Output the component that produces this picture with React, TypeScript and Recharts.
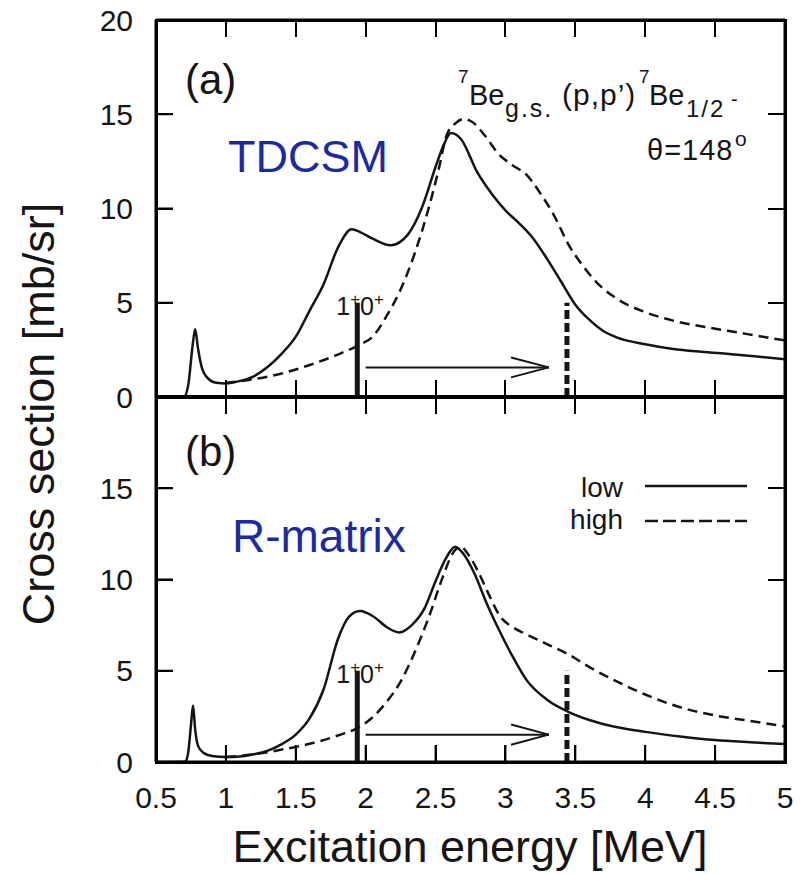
import React from "react";
import { LineChart, Line, XAxis, YAxis, ReferenceLine, Legend } from "recharts";

// axis ticks
const energyTicks = [0.5, 1, 1.5, 2, 2.5, 3, 3.5, 4, 4.5, 5];
const topYTicks = [0, 5, 10, 15, 20];
const bottomYTicks = [0, 5, 10, 15];

// (a) TDCSM, low / high
const tdcsmLowE = [0.5, 0.7, 0.73, 0.76, 0.78, 0.8, 0.83, 0.87, 0.93, 1.0, 1.1, 1.2, 1.3, 1.4, 1.5, 1.6, 1.7, 1.8, 1.9, 1.96, 2.05, 2.18, 2.3, 2.4, 2.5, 2.56, 2.61, 2.68, 2.8, 2.9, 3.0, 3.1, 3.2, 3.3, 3.4, 3.5, 3.6, 3.7, 3.8, 4.0, 4.2, 4.4, 4.6, 4.8, 5.0];
const tdcsmLowV = [0, 0.02, 0.6, 2.6, 3.6, 2.6, 1.5, 1.0, 0.75, 0.72, 0.85, 1.1, 1.6, 2.3, 3.2, 4.6, 6.0, 7.9, 8.9, 8.75, 8.4, 8.05, 8.6, 10.0, 12.2, 13.4, 14.0, 13.7, 11.9, 10.8, 9.9, 9.2, 8.4, 7.3, 6.1, 4.9, 4.1, 3.5, 3.15, 2.8, 2.55, 2.4, 2.28, 2.15, 2.0];
const tdcsmHighE = [1.0, 1.2, 1.4, 1.6, 1.8, 1.95, 2.05, 2.15, 2.25, 2.35, 2.45, 2.52, 2.58, 2.64, 2.7, 2.76, 2.85, 2.95, 3.05, 3.15, 3.25, 3.35, 3.45, 3.55, 3.65, 3.8, 4.0, 4.2, 4.4, 4.6, 4.8, 5.0];
const tdcsmHighV = [0.75, 0.95, 1.25, 1.7, 2.25, 2.75, 3.2, 4.3, 5.7, 7.6, 10.0, 12.0, 13.9, 14.5, 14.75, 14.6, 13.9, 12.9, 12.3, 11.8, 10.8, 9.6, 8.1, 7.0, 6.1, 5.2, 4.5, 4.05, 3.75, 3.5, 3.25, 3.0];

// (b) R-matrix, low / high
const rmLowE = [0.5, 0.71, 0.73, 0.75, 0.765, 0.78, 0.8, 0.84, 0.9, 1.0, 1.1, 1.2, 1.3, 1.4, 1.5, 1.6, 1.7, 1.8, 1.88, 1.96, 2.05, 2.15, 2.24, 2.33, 2.42, 2.5, 2.57, 2.64, 2.7, 2.78, 2.86, 2.95, 3.05, 3.15, 3.3, 3.45, 3.6, 3.8, 4.0, 4.25, 4.5, 4.75, 5.0];
const rmLowV = [0, 0.02, 0.5, 2.0, 3.1, 1.8, 0.9, 0.5, 0.33, 0.27, 0.3, 0.42, 0.62, 0.98, 1.5, 2.4, 4.0, 6.7, 7.95, 8.27, 8.0, 7.4, 7.1, 7.5, 8.4, 9.9, 11.1, 11.8, 11.4, 10.3, 8.8, 7.3, 5.8, 4.5, 3.4, 2.75, 2.3, 1.9, 1.65, 1.4, 1.2, 1.08, 0.98];
const rmHighE = [1.0, 1.2, 1.4, 1.6, 1.8, 1.95, 2.05, 2.15, 2.25, 2.35, 2.45, 2.55, 2.62, 2.68, 2.74, 2.8, 2.88, 2.96, 3.05, 3.15, 3.3, 3.45, 3.6, 3.8, 4.0, 4.25, 4.5, 4.75, 5.0];
const rmHighV = [0.28, 0.42, 0.68, 1.0, 1.45, 1.9, 2.45, 3.3, 4.4, 6.0, 7.9, 10.1, 11.4, 11.8, 11.3, 10.5, 9.2, 8.0, 7.4, 7.0, 6.45, 5.9, 5.2, 4.4, 3.7, 3.0, 2.55, 2.25, 1.95];

// thresholds (MeV), marker height (mb/sr), arrow
const solidMarkerE = 1.94;
const dashedMarkerE = 3.44;
const markerTop = 5;
const arrowFrom = 2.0;
const arrowTo = 3.31;
const arrowBack = 3.04;
const arrowLevel = [1.57, 1.5];
const arrowSpread = [0.53, 0.55];

const zip = (e: number[], v: number[]) => e.map((x, i) => ({ e: x, v: v[i] }));

const FONT = "'Liberation Sans', Arial, Helvetica, sans-serif";
const INK = "#151515";
const BLUE = "#1b2aa3";

// plot geometry shared by both panels
const W = 807;
const H = 874;
const LEFT = 156;
const RIGHT = 785;
const PANELS = [
  { top: 20, bottom: 397 },
  { top: 397, bottom: 762 },
];
const E_MIN = 0.5;
const E_MAX = 5;
const V_MAX = 20;
const TICK = 17;

const frameLine = { stroke: "#000", strokeWidth: 3 };
const tickLine = { stroke: "#000", strokeWidth: 2 };

function MarkerLabel({ viewBox }: any) {
  if (!viewBox) return null;
  return (
    <text x={viewBox.x - 21} y={viewBox.y + 12} fontFamily={FONT} fontSize={25} fill={INK}>
      1
      <tspan dy={-10} fontSize={17}>+</tspan>
      <tspan dy={10}>0</tspan>
      <tspan dy={-10} fontSize={17}>+</tspan>
    </text>
  );
}

function LegendBox({ payload }: any) {
  const items = [...(payload || [])].sort((a: any, b: any) => {
    const da = a?.payload?.strokeDasharray ? 1 : 0;
    const db = b?.payload?.strokeDasharray ? 1 : 0;
    return da - db;
  });
  return (
    <svg width={W} height={H} style={{ position: "absolute", left: 0, top: 0 }}>
      {items.map((p: any, i: number) => (
        <g key={i}>
          <text x={623} y={497 + 32 * i} textAnchor="end" fontFamily={FONT} fontSize={28} fill={INK}>
            {p.value}
          </text>
          <line
            x1={645}
            x2={747}
            y1={486 + 35 * i}
            y2={486 + 35 * i}
            stroke={INK}
            strokeWidth={2.5}
            strokeDasharray={p?.payload?.strokeDasharray ? "13 5" : undefined}
          />
        </g>
      ))}
    </svg>
  );
}

// frame boxes and inward ticks as plain html boxes (backup for the axis lines)
function frameBars() {
  const xPx = (e: number) => LEFT + ((e - E_MIN) / (E_MAX - E_MIN)) * (RIGHT - LEFT);
  const bars: { x: number; y: number; w: number; h: number }[] = [];
  const F = 3;
  const T = 2;
  PANELS.forEach((p, k) => {
    const yPx = (v: number) => p.bottom - (v / V_MAX) * (p.bottom - p.top);
    bars.push({ x: LEFT - 1, y: p.top - 1, w: RIGHT - LEFT + F, h: F });
    bars.push({ x: LEFT - 1, y: p.bottom - 1, w: RIGHT - LEFT + F, h: F });
    bars.push({ x: LEFT - 1, y: p.top - 1, w: F, h: p.bottom - p.top + F });
    bars.push({ x: RIGHT - 1, y: p.top - 1, w: F, h: p.bottom - p.top + F });
    energyTicks.forEach((t) => {
      const x = Math.round(xPx(t));
      bars.push({ x: x - 1, y: p.bottom - TICK, w: T, h: TICK });
      bars.push({ x: x - 1, y: p.top, w: T, h: TICK });
    });
    (k === 0 ? topYTicks : bottomYTicks).forEach((t) => {
      const y = Math.round(yPx(t));
      bars.push({ x: LEFT, y: y - 1, w: TICK, h: T });
      bars.push({ x: RIGHT - TICK, y: y - 1, w: TICK, h: T });
    });
  });
  bars.push({ x: LEFT, y: PANELS[0].bottom - 2, w: RIGHT - LEFT, h: 4 });
  return bars;
}

interface PanelProps {
  low: { e: number; v: number }[];
  high: { e: number; v: number }[];
  xHeight: number;
  yTicks: number[];
  idx: number;
  showLegend?: boolean;
}

function Panel({ low, high, xHeight, yTicks, idx, showLegend }: PanelProps) {
  const y0 = arrowLevel[idx];
  const s = arrowSpread[idx];
  const { top, bottom } = PANELS[idx];
  const seg = (x1: number, y1: number, x2: number, y2: number, key: string, w = 2) => (
    <ReferenceLine
      key={key}
      xAxisId="b"
      yAxisId="l"
      segment={[{ x: x1, y: y1 }, { x: x2, y: y2 }]}
      stroke={INK}
      strokeWidth={w}
      ifOverflow="visible"
    />
  );
  return (
    <div style={{ position: "absolute", left: 0, top: 0 }}>
      <LineChart
        width={W}
        height={H}
        margin={{ top: top - 1, right: W - RIGHT - 1, bottom: H - bottom - xHeight, left: 0 }}
      >
        <XAxis
          xAxisId="b"
          dataKey="e"
          type="number"
          domain={[E_MIN, E_MAX]}
          ticks={energyTicks}
          interval={0}
          orientation="bottom"
          height={xHeight}
          axisLine={frameLine}
          tickLine={tickLine}
          tickSize={-TICK}
          tickMargin={42}
          tick={xHeight > 1 ? { fontSize: 30, fill: INK, fontFamily: FONT } : false}
        />
        <XAxis
          xAxisId="t"
          dataKey="e"
          type="number"
          domain={[E_MIN, E_MAX]}
          ticks={energyTicks}
          interval={0}
          orientation="top"
          height={1}
          axisLine={frameLine}
          tickLine={tickLine}
          tickSize={-TICK}
          tick={false}
        />
        <YAxis
          yAxisId="l"
          type="number"
          domain={[0, V_MAX]}
          ticks={yTicks}
          interval={0}
          width={LEFT}
          axisLine={frameLine}
          tickLine={tickLine}
          tickSize={-TICK}
          tickMargin={40}
          tick={{ fontSize: 30, fill: INK, fontFamily: FONT }}
        />
        <YAxis
          yAxisId="r"
          orientation="right"
          type="number"
          domain={[0, V_MAX]}
          ticks={yTicks}
          interval={0}
          width={1}
          axisLine={frameLine}
          tickLine={tickLine}
          tickSize={-TICK}
          tick={false}
        />
        <Line
          xAxisId="b"
          yAxisId="l"
          data={low}
          dataKey="v"
          name="low"
          type="monotone"
          stroke={INK}
          strokeWidth={2.5}
          dot={false}
          activeDot={false}
          isAnimationActive={false}
          legendType="line"
        />
        <Line
          xAxisId="b"
          yAxisId="l"
          data={high}
          dataKey="v"
          name="high"
          type="monotone"
          stroke={INK}
          strokeWidth={2.5}
          strokeDasharray="10 6"
          dot={false}
          activeDot={false}
          isAnimationActive={false}
          legendType="line"
        />
        <ReferenceLine
          xAxisId="b"
          yAxisId="l"
          segment={[{ x: solidMarkerE, y: 0 }, { x: solidMarkerE, y: markerTop }]}
          stroke={INK}
          strokeWidth={5}
          label={<MarkerLabel />}
        />
        <ReferenceLine
          xAxisId="b"
          yAxisId="l"
          segment={[{ x: dashedMarkerE, y: 0 }, { x: dashedMarkerE, y: markerTop }]}
          stroke={INK}
          strokeWidth={5}
          strokeDasharray="9 4"
        />
        {seg(arrowFrom, y0, arrowTo, y0, "shaft")}
        {seg(arrowBack, y0 + s, arrowTo, y0, "head1")}
        {seg(arrowBack, y0 - s, arrowTo, y0, "head2")}
        {showLegend && (
          <Legend
            layout="vertical"
            align="center"
            verticalAlign="middle"
            content={<LegendBox />}
            wrapperStyle={{ position: "absolute", left: 0, top: 0, width: W, height: H, pointerEvents: "none" }}
          />
        )}
      </LineChart>
    </div>
  );
}

export default function App() {
  const bars = frameBars();
  return (
    <div style={{ position: "absolute", left: 0, top: 0, width: W, height: H, background: "#fff", fontFamily: FONT }}>
      <Panel low={zip(tdcsmLowE, tdcsmLowV)} high={zip(tdcsmHighE, tdcsmHighV)} xHeight={1} yTicks={topYTicks} idx={0} />
      <Panel low={zip(rmLowE, rmLowV)} high={zip(rmHighE, rmHighV)} xHeight={40} yTicks={bottomYTicks} idx={1} showLegend />

      {/* frame + ticks */}
      {bars.map((b, i) => (
        <div
          key={i}
          style={{ position: "absolute", left: b.x, top: b.y, width: b.w, height: b.h, background: "#000", pointerEvents: "none" }}
        />
      ))}

      <svg width={W} height={H} style={{ position: "absolute", left: 0, top: 0, pointerEvents: "none" }} fontFamily={FONT}>
        {/* axis titles */}
        <text x={54} y={414} transform="rotate(-90 54 414)" textAnchor="middle" fontSize={45} fill={INK}>
          Cross section [mb/sr]
        </text>
        <text x={470} y={862} textAnchor="middle" fontSize={45} fill={INK}>
          Excitation energy [MeV]
        </text>

        {/* panel (a) */}
        <text x={185} y={94} fontSize={42} fill={INK}>(a)</text>
        <text x={228} y={172} fontSize={45} fill={BLUE}>TDCSM</text>
        <text fill={INK}>
          <tspan x={458} y={83} fontSize={19}>7</tspan>
          <tspan x={469} y={105} fontSize={29}>Be</tspan>
          <tspan x={505} y={117} fontSize={25} letterSpacing={2}>g.s.</tspan>
          <tspan x={562} y={105} fontSize={30} letterSpacing={1}>(p,p’)</tspan>
          <tspan x={639} y={83} fontSize={19}>7</tspan>
          <tspan x={649} y={105} fontSize={29}>Be</tspan>
          <tspan x={686} y={117} fontSize={24} letterSpacing={2}>1/2</tspan>
          <tspan x={731} y={106} fontSize={20}>-</tspan>
        </text>
        <text fill={INK}>
          <tspan x={647} y={160} fontSize={29} letterSpacing={1}>θ=148</tspan>
          <tspan x={735} y={146} fontSize={21}>o</tspan>
        </text>

        {/* panel (b) */}
        <text x={185} y={466} fontSize={42} fill={INK}>(b)</text>
        <text x={232} y={552} fontSize={46} fill={BLUE}>R-matrix</text>
      </svg>
    </div>
  );
}
